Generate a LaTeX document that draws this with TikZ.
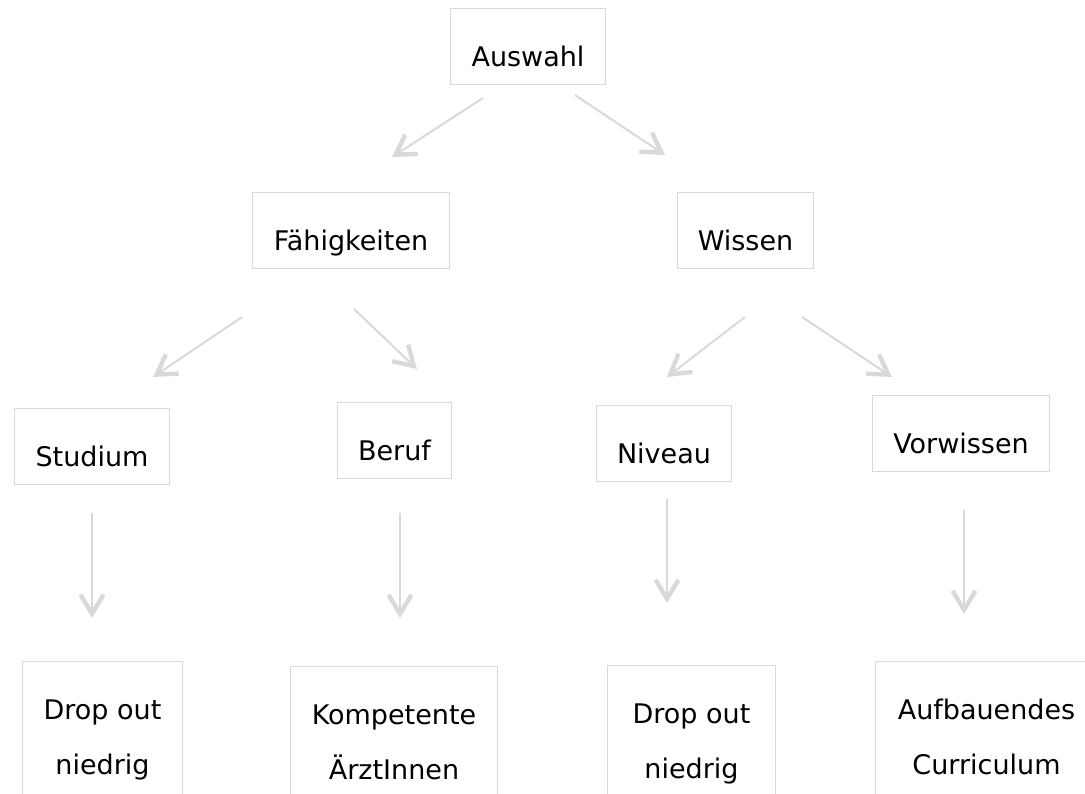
\documentclass[tikz,border=0pt]{standalone}
\usepackage{fontspec}
\setmainfont{DejaVu Sans}
\usetikzlibrary{arrows.meta, positioning}

\begin{document}
\begin{tikzpicture}[
    x=0.5pt, y=-0.5pt,
    every node/.style={font=\fontsize{13.5}{27.5}\selectfont},
    box/.style={rectangle, draw=gray!30, line width=0.5pt, anchor=north west, inner xsep=0pt, inner ysep=0pt, text height=29pt, text depth=9pt, align=center},
    tallbox/.style={box, text height=56.5pt, text depth=50pt},
    arrow/.style={-{Straight Barb[length=9.5pt, width=11.5pt, line width=2.2pt]}, line width=1pt, draw=gray!30}
]
\useasboundingbox (0,0) rectangle (1085,793);

% ============ TOP LEVEL ============
\node[box, minimum width=77.5pt] (ausw) at (450, 8) {Auswahl};

% ============ SECOND LEVEL ============
\node[box, minimum width=98.5pt] (faeh) at (252, 192) {Fähigkeiten};
\node[box, minimum width=68pt] (wiss) at (677, 192) {Wissen};

% ============ THIRD LEVEL ============
\node[box, minimum width=77.5pt] (stud) at (14, 408) {Studium};
\node[box, minimum width=57pt] (beruf) at (337, 402) {Beruf};
\node[box, minimum width=67.5pt] (niv) at (596, 405) {Niveau};
\node[box, minimum width=88.5pt] (vorw) at (872, 395) {Vorwissen};

% ============ OUTCOMES ============
\node[tallbox, minimum width=80pt] (drop1) at (22, 661) {Drop out\\niedrig};
\node[tallbox, minimum width=103.5pt] (komp) at (290, 666) {Kompetente\\ÄrztInnen};
\node[tallbox, minimum width=84pt] (drop2) at (607, 665) {Drop out\\niedrig};
\node[tallbox, minimum width=111pt] (aufb) at (875, 661) {Aufbauendes\\Curriculum};

% Arrow ends (the arrows float between the boxes)
\coordinate (a1s) at (483, 98);  \coordinate (a1e) at (392, 157);
\coordinate (a2s) at (575, 95);  \coordinate (a2e) at (665, 155);
\coordinate (a3s) at (242, 317); \coordinate (a3e) at (153, 377);
\coordinate (a4s) at (354, 309); \coordinate (a4e) at (417, 369);
\coordinate (a5s) at (745, 317); \coordinate (a5e) at (667, 377);
\coordinate (a6s) at (802, 317); \coordinate (a6e) at (892, 377);
\coordinate (a7s) at (92, 513);  \coordinate (a7e) at (92, 618);
\coordinate (a8s) at (400, 513); \coordinate (a8e) at (400, 618);
\coordinate (a9s) at (667, 499); \coordinate (a9e) at (667, 603);
\coordinate (a10s) at (964, 510); \coordinate (a10e) at (964, 614);

% Arrows
\draw[arrow] (a1s) -- (a1e);
\draw[arrow] (a2s) -- (a2e);
\draw[arrow] (a3s) -- (a3e);
\draw[arrow] (a4s) -- (a4e);
\draw[arrow] (a5s) -- (a5e);
\draw[arrow] (a6s) -- (a6e);
\draw[arrow] (a7s) -- (a7e);
\draw[arrow] (a8s) -- (a8e);
\draw[arrow] (a9s) -- (a9e);
\draw[arrow] (a10s) -- (a10e);

\end{tikzpicture}
\end{document}
